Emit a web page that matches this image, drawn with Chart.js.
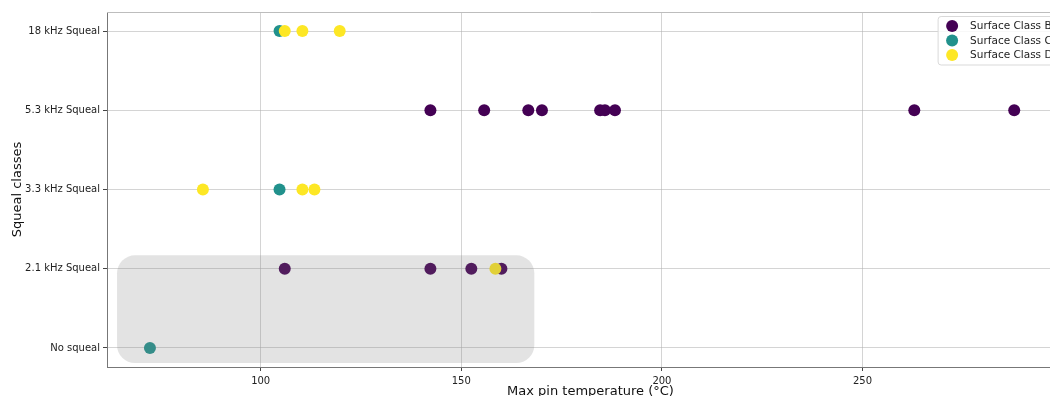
<!DOCTYPE html>
<html>
<head>
<meta charset="utf-8">
<script src="https://cdn.jsdelivr.net/npm/chart.js@4/dist/chart.umd.min.js"></script>
<style>
  html, body { margin: 0; padding: 0; background: #fff; overflow: hidden; width: 1050px; height: 396px; }
  #wrap { position: relative; width: 1080px; height: 400px; }
</style>
</head>
<body>
<div id="wrap"><canvas id="c" width="1080" height="400"></canvas></div>
<script>
// Squeal classes, bottom to top
const squealClasses = ['No squeal', '2.1 kHz Squeal', '3.3 kHz Squeal', '5.3 kHz Squeal', '18 kHz Squeal'];
const xTicks = [100, 150, 200, 250, 300];

// Surface Class B
const classBTemp   = [142.3, 155.7, 166.7, 170.1, 184.6, 185.8, 188.3, 262.9, 287.8, 106.0, 142.3, 152.5, 160.0];
const classBSqueal = ['5.3 kHz Squeal', '5.3 kHz Squeal', '5.3 kHz Squeal', '5.3 kHz Squeal', '5.3 kHz Squeal',
                      '5.3 kHz Squeal', '5.3 kHz Squeal', '5.3 kHz Squeal', '5.3 kHz Squeal',
                      '2.1 kHz Squeal', '2.1 kHz Squeal', '2.1 kHz Squeal', '2.1 kHz Squeal'];

// Surface Class C
const classCTemp   = [104.7, 104.7, 72.4];
const classCSqueal = ['18 kHz Squeal', '3.3 kHz Squeal', 'No squeal'];

// Surface Class D
const classDTemp   = [106.0, 110.4, 119.7, 85.6, 110.4, 113.4, 158.5];
const classDSqueal = ['18 kHz Squeal', '18 kHz Squeal', '18 kHz Squeal',
                      '3.3 kHz Squeal', '3.3 kHz Squeal', '3.3 kHz Squeal', '2.1 kHz Squeal'];

const seriesNames  = ['Surface Class B', 'Surface Class C', 'Surface Class D'];
const seriesColors = ['#440154', '#21918c', '#fde725'];

function toPoints(temps, squeals) {
  return temps.map((t, i) => ({ x: t, y: squealClasses.indexOf(squeals[i]) }));
}

const seriesPoints = [
  toPoints(classBTemp, classBSqueal),
  toPoints(classCTemp, classCSqueal),
  toPoints(classDTemp, classDSqueal)
];

const FONT = 'DejaVu Sans';

// Rounded grey band over the low-squeal, low-temperature region, plus frame and legend
const decorations = {
  id: 'decorations',
  afterDraw(chart) {
    const ctx = chart.ctx;
    const xs = chart.scales.x, ys = chart.scales.y, area = chart.chartArea;

    // highlighted region (data-space corners)
    const x0 = xs.getPixelForValue(64.2), x1 = xs.getPixelForValue(168.2);
    const y0 = ys.getPixelForValue(1.17), y1 = ys.getPixelForValue(-0.19);
    ctx.save();
    ctx.fillStyle = 'rgba(128,128,128,0.22)';
    ctx.beginPath();
    ctx.roundRect(x0, y0, x1 - x0, y1 - y0, 18);
    ctx.fill();
    ctx.restore();

    // top frame line
    ctx.save();
    ctx.strokeStyle = '#bdbdbd';
    ctx.lineWidth = 1;
    ctx.beginPath();
    ctx.moveTo(area.left, area.top + 0.5);
    ctx.lineTo(area.right, area.top + 0.5);
    ctx.stroke();
    ctx.restore();

    // legend box in the upper right corner
    ctx.save();
    ctx.font = '10.5px "' + FONT + '"';
    const textW = Math.max(...seriesNames.map(n => ctx.measureText(n).width));
    const rowH = 14.5;
    const boxW = 12 + 12 + 8 + textW + 8;
    const boxH = seriesNames.length * rowH + 5;
    const bx = area.right - 14 - boxW + 0.5, by = area.top + 4.5;
    ctx.fillStyle = 'rgba(255,255,255,0.85)';
    ctx.strokeStyle = '#d9d9d9';
    ctx.lineWidth = 1;
    ctx.beginPath();
    ctx.roundRect(bx, by, boxW, boxH, 3);
    ctx.fill();
    ctx.stroke();
    ctx.textBaseline = 'middle';
    seriesNames.forEach((n, i) => {
      const cy = by + 9.5 + i * rowH;
      ctx.beginPath();
      ctx.arc(bx + 14, cy, 6, 0, Math.PI * 2);
      ctx.fillStyle = seriesColors[i];
      ctx.fill();
      ctx.fillStyle = '#222';
      ctx.fillText(n, bx + 32, cy + 0.5);
    });
    ctx.restore();
  }
};

new Chart(document.getElementById('c'), {
  type: 'scatter',
  data: {
    datasets: seriesNames.map((name, i) => ({
      label: name,
      data: seriesPoints[i],
      backgroundColor: seriesColors[i],
      borderWidth: 0,
      pointRadius: 6,
      pointHoverRadius: 6,
      order: seriesNames.length - 1 - i   // later classes are painted on top
    }))
  },
  options: {
    responsive: false,
    animation: false,
    devicePixelRatio: 1,
    events: [],
    layout: { padding: { left: 0, top: 12, right: 4, bottom: 0 } },
    plugins: {
      legend: { display: false },
      tooltip: { enabled: false }
    },
    scales: {
      x: {
        type: 'linear',
        min: 61.7,
        max: 302.7,
        z: 1,
        afterBuildTicks: s => { s.ticks = xTicks.map(v => ({ value: v })); },
        afterFit: s => { s.height = 33; },
        grid: { color: 'rgba(176,176,176,0.55)', lineWidth: 1, tickLength: 4, tickColor: '#444', drawOnChartArea: true },
        border: { display: true, color: '#777', width: 1 },
        ticks: { color: '#222', font: { family: FONT, size: 10 }, padding: 4, maxRotation: 0 },
        title: { display: true, text: 'Max pin temperature (°C)', color: '#111', font: { family: FONT, size: 13 }, padding: { top: 0, bottom: 1 } }
      },
      y: {
        type: 'linear',
        min: -0.24,
        max: 4.24,
        z: 1,
        afterBuildTicks: s => { s.ticks = squealClasses.map((_, i) => ({ value: i })); },
        afterFit: s => { s.width = 107; },
        grid: { color: 'rgba(176,176,176,0.55)', lineWidth: 1, tickLength: 4, tickColor: '#444' },
        border: { display: true, color: '#777', width: 1 },
        ticks: {
          color: '#222',
          font: { family: FONT, size: 10 },
          padding: 3,
          callback: v => squealClasses[v]
        },
        title: { display: true, text: 'Squeal classes', color: '#111', font: { family: FONT, size: 13 }, padding: { top: 10, bottom: 4 } }
      }
    }
  },
  plugins: [decorations]
});
</script>
</body>
</html>
